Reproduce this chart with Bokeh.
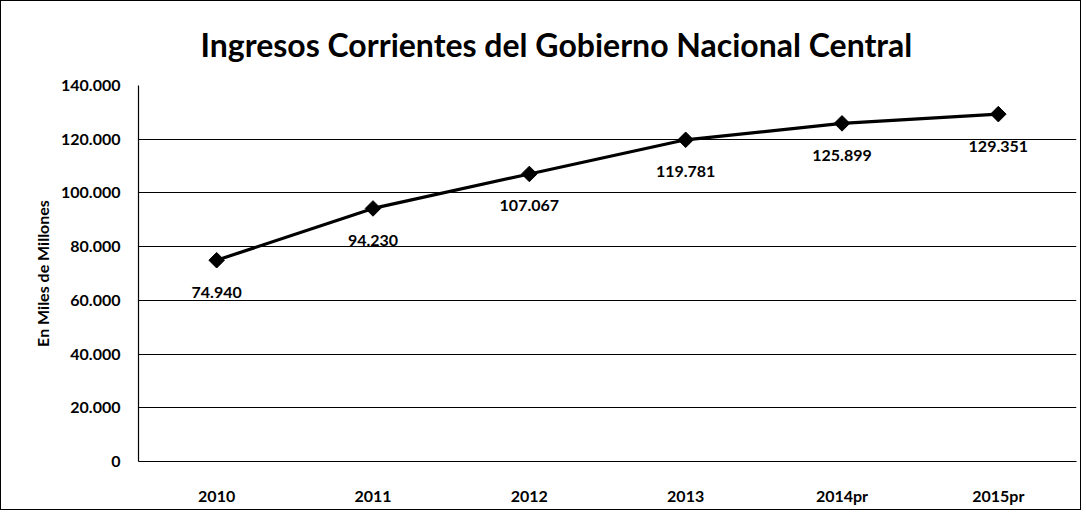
import math
from bokeh.plotting import figure
from bokeh.models import ColumnDataSource, FixedTicker, Range1d, LabelSet
from bokeh.core.properties import value
from bokeh.embed import file_html
from bokeh.resources import INLINE

categories = ["2010", "2011", "2012", "2013", "2014pr", "2015pr"]
values = [74940, 94230, 107067, 119781, 125899, 129351]
value_labels = ["74.940", "94.230", "107.067", "119.781", "125.899", "129.351"]
y_ticks = [0, 20000, 40000, 60000, 80000, 100000, 120000, 140000]
y_tick_labels = ["0", "20.000", "40.000", "60.000", "80.000", "100.000", "120.000", "140.000"]

source = ColumnDataSource(dict(x=categories, y=values, label=value_labels))

p = figure(x_range=categories, y_range=Range1d(0, 140000),
           width=1081, height=510, output_backend="svg", toolbar_location=None,
           min_border_left=137, min_border_right=6, min_border_top=84, min_border_bottom=50,
           title="Ingresos Corrientes del Gobierno Nacional Central")

p.title.text_font = "Lato"
p.title.text_font_style = "bold"
p.title.text_font_size = "32px"
p.title.text_color = "black"
p.title.align = "left"
p.title.offset = 62
p.title.standoff = 40
p.title.vertical_align = "top"

p.outline_line_color = None
p.background_fill_color = "white"
p.border_fill_color = "white"

p.xgrid.grid_line_color = None
p.ygrid.grid_line_color = "black"
p.ygrid.grid_line_width = 1
p.ygrid.grid_line_alpha = 1

p.yaxis.ticker = FixedTicker(ticks=y_ticks)
p.yaxis.major_label_overrides = {t: l for t, l in zip(y_ticks, y_tick_labels)}
p.yaxis.axis_label = "En Miles de Millones"
p.yaxis.axis_label_text_font = "Lato"
p.yaxis.axis_label_text_font_style = "bold"
p.yaxis.axis_label_text_font_size = "16px"
p.yaxis.axis_label_text_color = "black"
p.yaxis.axis_label_standoff = 6

for ax in (p.xaxis, p.yaxis):
    ax.axis_line_color = "black"
    ax.axis_line_width = 1.2
    ax.major_tick_line_color = None
    ax.minor_tick_line_color = None
    ax.major_label_text_font = "Lato"
    ax.major_label_text_font_style = "bold"
    ax.major_label_text_font_size = "16px"
    ax.major_label_text_color = "black"

p.yaxis.major_label_standoff = 12
p.xaxis.major_label_standoff = 18

p.line("x", "y", source=source, line_color="black", line_width=3.2)
p.scatter("x", "y", source=source, marker="square", angle=math.pi / 4, size=11,
          fill_color="black", line_color="black")

labels = LabelSet(x="x", y="y", text="label", source=source, y_offset=-32,
                  text_align="center", text_baseline="middle",
                  text_font=value("Lato"), text_font_style="bold", text_font_size="16px",
                  text_color="black")
p.add_layout(labels)

p.styles = {"border": "1px solid black"}

open("out.html", "w").write(file_html(p, INLINE))
